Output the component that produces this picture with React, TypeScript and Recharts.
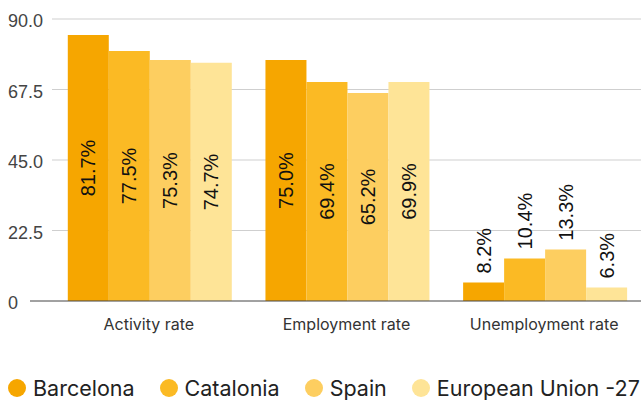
import { BarChart, Bar, XAxis, YAxis, CartesianGrid, Legend, LabelList } from "recharts";

// categorias y valores
const categorias = ["Activity rate", "Employment rate", "Unemployment rate"];

// altura de las barras (tal como se ven)
const barcelona = [84.9, 76.9, 5.9];
const catalonia = [79.8, 69.9, 13.6];
const spain = [76.9, 66.4, 16.4];
const eu27 = [76.0, 69.9, 4.3];

// textos que aparecen dentro/encima de las barras
const barcelonaLabels = ["81.7%", "75.0%", "8.2%"];
const cataloniaLabels = ["77.5%", "69.4%", "10.4%"];
const spainLabels = ["75.3%", "65.2%", "13.3%"];
const eu27Labels = ["74.7%", "69.9%", "6.3%"];

const yTicks = [0, 22.5, 45, 67.5, 90];

const series = [
    { key: "barcelona", name: "Barcelona", color: "#F6A600", values: barcelona, labels: barcelonaLabels },
    { key: "catalonia", name: "Catalonia", color: "#FBBA24", values: catalonia, labels: cataloniaLabels },
    { key: "spain", name: "Spain", color: "#FDCE60", values: spain, labels: spainLabels },
    { key: "eu27", name: "European Union -27", color: "#FEE497", values: eu27, labels: eu27Labels },
];

const data = categorias.map((name, i) => {
    const row: any = { name };
    series.forEach(s => { row[s.key] = s.values[i]; });
    return row;
});

const sans = "Inter, 'Noto Sans', sans-serif";
const arial = "'Liberation Sans', Arial, sans-serif";

function YTick(props: any) {
    const { y, payload } = props;
    const v = payload.value;
    return (
        <text x={8} y={y + 8} textAnchor="start" fontFamily={arial} fontSize={18} fill="#444">
            {v === 0 ? "0" : v.toFixed(1)}
        </text>
    );
}

function XTick(props: any) {
    const { x, y, payload } = props;
    return (
        <text x={x} y={y + 21} textAnchor="middle" fontFamily={sans} fontSize={16} fill="#333">
            {payload.value}
        </text>
    );
}

// linea de la reja que empieza un poco a la derecha del eje
function GridLine(props: any) {
    const { x1, x2, y1, y2 } = props;
    if (y1 > 295) return <g />;
    return <line x1={x1 + 22} x2={x2} y1={y1} y2={y2} stroke="#cfcfcf" strokeWidth={1} />;
}

function makeLabel(labels: string[]) {
    return (props: any) => {
        const { x, y, width, height, index } = props;
        const cx = x + width / 2;
        const text = labels[index];
        if (height > 100) {
            const cy = y + height / 2;
            return (
                <text x={cx} y={cy} transform={`rotate(-90 ${cx} ${cy})`} textAnchor="middle"
                    dominantBaseline="central" fontFamily={arial} fontSize={20} fill="#111">
                    {text}
                </text>
            );
        }
        const ty = y - 9;
        return (
            <text x={cx} y={ty} transform={`rotate(-90 ${cx} ${ty})`} textAnchor="start"
                dominantBaseline="central" fontFamily={arial} fontSize={20} fill="#111">
                {text}
            </text>
        );
    };
}

function Leyenda() {
    return (
        <div style={{ display: "flex", alignItems: "center", fontFamily: sans, fontSize: 21.5, color: "#222", whiteSpace: "nowrap" }}>
            {series.map(s => (
                <div key={s.key} style={{ display: "flex", alignItems: "center", marginRight: 25 }}>
                    <span style={{ width: 18, height: 18, borderRadius: "50%", background: s.color, display: "inline-block", marginRight: 7 }} />
                    <span>{s.name}</span>
                </div>
            ))}
        </div>
    );
}

export default function App() {
    return (
        <div style={{ position: "absolute", top: 0, left: 0, width: 641, height: 400, overflow: "hidden", background: "#fff" }}>
            <BarChart width={643} height={400} data={data}
                margin={{ top: 19, right: 0, bottom: 0, left: 0 }}
                barCategoryGap="9%" barGap={0}>
                <CartesianGrid vertical={false} horizontal={GridLine as any} />
                <XAxis dataKey="name" height={99} padding={{ left: 20, right: 0 }}
                    axisLine={{ stroke: "#444" }} tickLine={false} tick={<XTick />} interval={0} />
                <YAxis width={30} domain={[0, 90]} ticks={yTicks} axisLine={false} tickLine={false} tick={<YTick />} />
                <Legend layout="horizontal" verticalAlign="middle" align="center" content={<Leyenda />}
                    wrapperStyle={{ position: "absolute", top: 375, left: 8, width: 700, height: 28 }} />
                {series.map(s => (
                    <Bar key={s.key} dataKey={s.key} name={s.name} fill={s.color} isAnimationActive={false}>
                        <LabelList dataKey={s.key} content={makeLabel(s.labels)} />
                    </Bar>
                ))}
            </BarChart>
        </div>
    );
}
